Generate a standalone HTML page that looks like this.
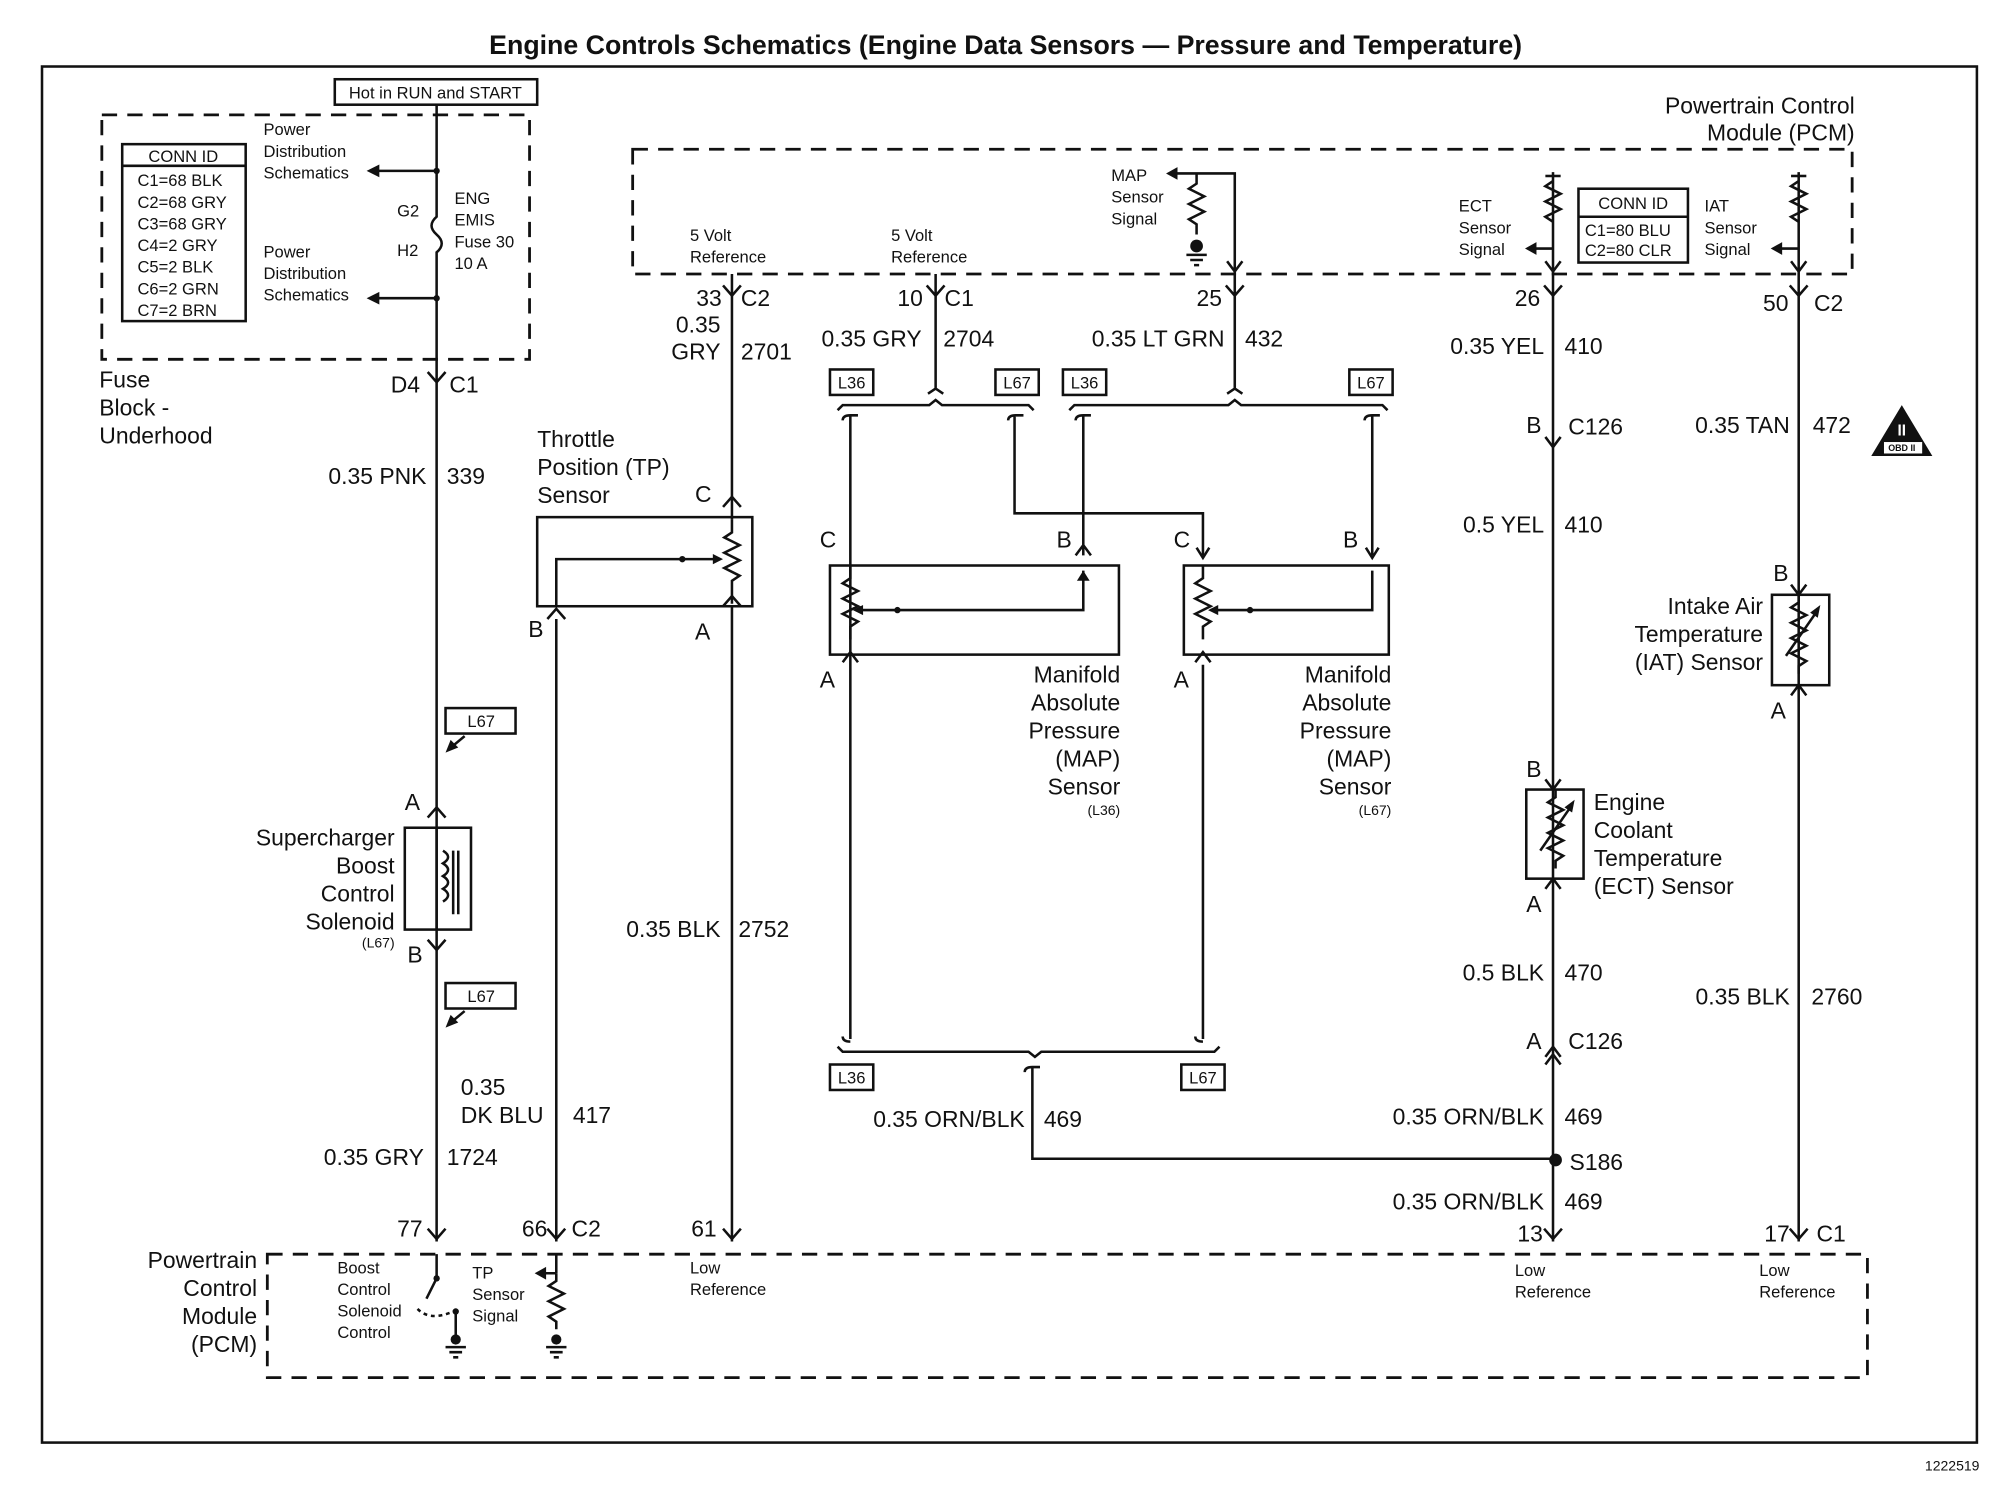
<!DOCTYPE html>
<html><head><style>
html,body{margin:0;padding:0;background:#fff}
svg{display:block}
text{font-family:"Liberation Sans",sans-serif;fill:#111}
.t{font-size:18px}
.s{font-size:13px}
.xs{font-size:11px}
.l{stroke:#111;stroke-width:2;fill:none}
.d{stroke:#111;stroke-width:2.2;fill:none;stroke-dasharray:12 8}
</style></head><body>
<svg width="1996" height="1504" viewBox="0 0 1568 1181" xmlns="http://www.w3.org/2000/svg">
<text x="790" y="42" text-anchor="middle" font-size="21" font-weight="bold">Engine Controls Schematics (Engine Data Sensors — Pressure and Temperature)</text>
<rect x="33" y="52" width="1520" height="1081" class="l" stroke-width="1.6"/>
<text x="1555" y="1155" text-anchor="end" class="xs">1222519</text>

<!-- Fuse block -->
<rect x="80" y="90" width="336" height="192" class="d"/>
<rect x="263" y="62" width="159" height="20" fill="#fff" stroke="#111" stroke-width="2"/>
<text x="342" y="77" text-anchor="middle" class="s">Hot in RUN and START</text>
<rect x="96" y="113" width="97" height="139" class="l"/>
<line x1="96" y1="130" x2="193" y2="130" class="l"/>
<g class="s"><text x="144" y="127" text-anchor="middle">CONN ID</text>
<text x="108" y="146">C1=68 BLK</text><text x="108" y="163">C2=68 GRY</text><text x="108" y="180">C3=68 GRY</text>
<text x="108" y="197">C4=2 GRY</text><text x="108" y="214">C5=2 BLK</text><text x="108" y="231">C6=2 GRN</text><text x="108" y="248">C7=2 BRN</text>
<text x="207" y="106">Power</text><text x="207" y="123">Distribution</text><text x="207" y="140">Schematics</text>
<text x="207" y="202">Power</text><text x="207" y="219">Distribution</text><text x="207" y="236">Schematics</text>
<text x="312" y="170">G2</text><text x="312" y="201">H2</text>
<text x="357" y="160">ENG</text><text x="357" y="177">EMIS</text><text x="357" y="194">Fuse 30</text><text x="357" y="211">10 A</text></g>
<path d="M343 82 V170 q-8 7 0 14 q8 7 0 14 V975" class="l"/>
<path d="M343 134 H292 M343 234 H292" class="l"/>
<path d="M288 134 l10 -5 v10z M288 234 l10 -5 v10z" fill="#111"/>
<circle cx="343" cy="134" r="2.5" fill="#111"/><circle cx="343" cy="234" r="2.5" fill="#111"/>
<path d="M336 292 l7 8 l7 -8" class="l"/>
<g class="t"><text x="78" y="304">Fuse</text><text x="78" y="326">Block -</text><text x="78" y="348">Underhood</text>
<text x="330" y="308" text-anchor="end">D4</text><text x="353" y="308">C1</text>
<text x="335" y="380" text-anchor="end">0.35 PNK</text><text x="351" y="380">339</text></g>

<!-- Solenoid -->
<rect x="350" y="556" width="55" height="20" fill="#fff" stroke="#111" stroke-width="2"/><text x="378" y="571" text-anchor="middle" class="s">L67</text>
<path d="M365 578 l-12 10" class="l"/><path d="M350 591 l4 -10 l6 6z" fill="#111"/>
<rect x="350" y="772" width="55" height="20" fill="#fff" stroke="#111" stroke-width="2"/><text x="378" y="787" text-anchor="middle" class="s">L67</text>
<path d="M365 794 l-12 10" class="l"/><path d="M350 807 l4 -10 l6 6z" fill="#111"/>
<rect x="318" y="650" width="52" height="80" fill="#fff" class="l"/>
<path d="M343 650 V730" class="l"/>
<path d="M348 668 q8 5 0 10 q8 5 0 10 q8 5 0 10 q8 5 0 10" class="l"/>
<path d="M356 668 V718 M360 668 V718" class="l"/>
<path d="M336 642 l7 -8 l7 8 M336 738 l7 8 l7 -8" class="l"/>
<g class="t"><text x="330" y="636" text-anchor="end">A</text><text x="332" y="756" text-anchor="end">B</text>
<text x="310" y="664" text-anchor="end">Supercharger</text><text x="310" y="686" text-anchor="end">Boost</text><text x="310" y="708" text-anchor="end">Control</text><text x="310" y="730" text-anchor="end">Solenoid</text>
<text x="362" y="860">0.35</text><text x="362" y="882">DK BLU</text><text x="450" y="882">417</text>
<text x="333" y="915" text-anchor="end">0.35 GRY</text><text x="351" y="915">1724</text></g>
<text x="310" y="744" text-anchor="end" class="xs">(L67)</text>

<!-- TP sensor -->
<g class="t"><text x="422" y="351">Throttle</text><text x="422" y="373">Position (TP)</text><text x="422" y="395">Sensor</text>
<text x="546" y="394">C</text><text x="415" y="500">B</text><text x="546" y="502">A</text></g>
<rect x="422" y="406" width="169" height="70" class="l"/>
<path d="M575 215 V408" class="l"/><path d="M568 398 l7 -8 l7 8" class="l"/>
<path d="M575 408 v10 l-6 4 l12 6 l-12 6 l12 6 l-12 6 l12 6 l-6 4 v18" class="l"/>
<path d="M568 476 l7 -8 l7 8" class="l"/><path d="M575 476 V975" class="l"/>
<path d="M565 439 H437 V476" class="l"/><circle cx="536" cy="439" r="2.5" fill="#111"/><path d="M568 439 l-8 -4 v8z" fill="#111"/>
<path d="M430 486 l7 -8 l7 8" class="l"/><path d="M437 486 V975" class="l"/>
<g class="t"><text x="567" y="240" text-anchor="end">33</text><text x="582" y="240">C2</text>
<text x="566" y="261" text-anchor="end">0.35</text><text x="566" y="282" text-anchor="end">GRY</text><text x="582" y="282">2701</text>
<text x="566" y="736" text-anchor="end">0.35 BLK</text><text x="580" y="736">2752</text></g>
<path d="M568 224 l7 8 l7 -8 M728 224 l7 8 l7 -8 M963 224 l7 8 l7 -8 M1213 224 l7 8 l7 -8 M1406 224 l7 8 l7 -8" class="l"/>

<!-- PCM top -->
<rect x="497" y="117" width="958" height="98" class="d"/>
<g class="t"><text x="1457" y="89" text-anchor="end">Powertrain Control</text><text x="1457" y="110" text-anchor="end">Module (PCM)</text></g>
<g class="s"><text x="542" y="189">5 Volt</text><text x="542" y="206">Reference</text>
<text x="700" y="189">5 Volt</text><text x="700" y="206">Reference</text>
<text x="873" y="142">MAP</text><text x="873" y="159">Sensor</text><text x="873" y="176">Signal</text>
<text x="1146" y="166">ECT</text><text x="1146" y="183">Sensor</text><text x="1146" y="200">Signal</text>
<text x="1339" y="166">IAT</text><text x="1339" y="183">Sensor</text><text x="1339" y="200">Signal</text></g>
<rect x="1240" y="148" width="86" height="58" class="l"/><line x1="1240" y1="170" x2="1326" y2="170" class="l"/>
<g class="s"><text x="1283" y="164" text-anchor="middle">CONN ID</text><text x="1245" y="185">C1=80 BLU</text><text x="1245" y="201">C2=80 CLR</text></g>
<!-- MAP resistor in PCM -->
<path d="M970 215 V136 H920" class="l"/><path d="M916 136 l9 -5 v10z" fill="#111"/>
<path d="M940 136 v8 l-6 4 l12 6 l-12 6 l12 6 l-12 6 l6 4 v8" class="l"/>
<circle cx="940" cy="193" r="5" fill="#111"/><path d="M932 200 h16 M935 204 h10 M938 208 h4" class="l"/>
<path d="M964 205 l6 8 l6 -8" class="l"/>
<!-- ECT res -->
<path d="M1220 135 V215" class="l"/><path d="M1214 138 h12" class="l"/>
<path d="M1220 142 l-6 4 l12 6 l-12 6 l12 6 l-12 6 l6 4" class="l"/>
<path d="M1220 195 H1202" class="l"/><path d="M1198 195 l9 -5 v10z" fill="#111"/>
<path d="M1214 205 l6 8 l6 -8" class="l"/>
<path d="M1413 135 V215" class="l"/><path d="M1407 138 h12" class="l"/>
<path d="M1413 142 l-6 4 l12 6 l-12 6 l12 6 l-12 6 l6 4" class="l"/>
<path d="M1413 195 H1395" class="l"/><path d="M1391 195 l9 -5 v10z" fill="#111"/>
<path d="M1407 205 l6 8 l6 -8" class="l"/>

<!-- MAP wiring -->
<path d="M735 215 V305 l-6 4 M735 305 l6 4 M970 215 V305 l-6 4 M970 305 l6 4" class="l"/>
<g class="t"><text x="725" y="240" text-anchor="end">10</text><text x="742" y="240">C1</text>
<text x="724" y="272" text-anchor="end">0.35 GRY</text><text x="741" y="272">2704</text>
<text x="960" y="240" text-anchor="end">25</text>
<text x="962" y="272" text-anchor="end">0.35 LT GRN</text><text x="978" y="272">432</text></g>
<g class="s" text-anchor="middle">
<rect x="652" y="290" width="34" height="20" class="l"/><text x="669" y="305">L36</text>
<rect x="782" y="290" width="34" height="20" class="l"/><text x="799" y="305">L67</text>
<rect x="835" y="290" width="34" height="20" class="l"/><text x="852" y="305">L36</text>
<rect x="1060" y="290" width="34" height="20" class="l"/><text x="1077" y="305">L67</text>
<rect x="652" y="836" width="34" height="20" class="l"/><text x="669" y="851">L36</text>
<rect x="928" y="836" width="34" height="20" class="l"/><text x="945" y="851">L67</text></g>
<path d="M658 322 l4 -4 H730 l5 -4 l5 4 H808 l4 4" class="l"/>
<path d="M840 322 l4 -4 H965 l5 -4 l5 4 H1086 l4 4" class="l"/>
<path d="M662 330 q0 -4 6 -4 h6 M668 326 V816 M662 814 q0 4 6 4" class="l"/>
<path d="M792 330 q0 -4 6 -4 h6 M797 326 V403 H945 V436" class="l"/>
<path d="M845 330 q0 -4 6 -4 h6 M851 326 V436" class="l"/>
<path d="M1072 330 q0 -4 6 -4 h6 M1078 326 V436" class="l"/>
<path d="M940 430 l5 8 l5 -8 M1073 430 l5 8 l5 -8" class="l"/>
<path d="M845 436 l6 -8 l6 8" class="l"/>
<path d="M658 822 l4 4 H808 l5 4 l5 -4 H954 l4 -4" class="l"/>
<path d="M945 522 V816 M939 814 q0 4 6 4" class="l"/>
<path d="M662 520 l6 -8 l6 8 M939 520 l6 -8 l6 8" class="l"/>
<path d="M805 842 q0 -4 6 -4 h6 M811 838 V910 H1222" class="l"/>
<!-- MAP boxes -->
<rect x="652" y="444" width="227" height="70" class="l"/>
<path d="M668 444 v10 l-6 4 l12 6 l-12 6 l12 6 l-12 6 l12 6 l-6 4 v10" class="l"/>
<path d="M672 479 H851 V448" class="l"/><circle cx="705" cy="479" r="2.5" fill="#111"/><path d="M670 479 l8 -4 v8z" fill="#111"/><path d="M846 456 l5 -8 l5 8z" fill="#111"/>
<rect x="930" y="444" width="161" height="70" class="l"/>
<path d="M945 444 v10 l-6 4 l12 6 l-12 6 l12 6 l-12 6 l12 6 l-6 4 v10" class="l"/>
<path d="M951 479 H1078 V448" class="l"/><circle cx="982" cy="479" r="2.5" fill="#111"/><path d="M949 479 l8 -4 v8z" fill="#111"/>
<g class="t"><text x="657" y="430" text-anchor="end">C</text><text x="842" y="430" text-anchor="end">B</text>
<text x="935" y="430" text-anchor="end">C</text><text x="1067" y="430" text-anchor="end">B</text>
<text x="656" y="540" text-anchor="end">A</text><text x="934" y="540" text-anchor="end">A</text>
<text x="880" y="536" text-anchor="end">Manifold</text><text x="880" y="558" text-anchor="end">Absolute</text><text x="880" y="580" text-anchor="end">Pressure</text><text x="880" y="602" text-anchor="end">(MAP)</text><text x="880" y="624" text-anchor="end">Sensor</text>
<text x="1093" y="536" text-anchor="end">Manifold</text><text x="1093" y="558" text-anchor="end">Absolute</text><text x="1093" y="580" text-anchor="end">Pressure</text><text x="1093" y="602" text-anchor="end">(MAP)</text><text x="1093" y="624" text-anchor="end">Sensor</text>
<text x="805" y="885" text-anchor="end">0.35 ORN/BLK</text><text x="820" y="885">469</text></g>
<text x="880" y="640" text-anchor="end" class="xs">(L36)</text><text x="1093" y="640" text-anchor="end" class="xs">(L67)</text>

<!-- ECT column -->
<path d="M1220 215 V975" class="l"/>
<path d="M1214 343 l6 8 l6 -8 M1214 830 l6 -8 l6 8 M1214 836 l6 -8 l6 8" class="l"/>
<rect x="1199" y="620" width="45" height="70" fill="#fff" class="l"/>
<path d="M1222 620 v6 l-6 4 l12 6 l-12 6 l12 6 l-12 6 l12 6 l-12 6 l12 6 l-6 4 v6" class="l"/>
<path d="M1210 668 l25 -36" class="l"/><path d="M1237 628 l-2 10 l-6 -4z" fill="#111"/>
<path d="M1214 612 l6 8 l6 -8 M1214 698 l6 -8 l6 8" class="l"/>
<circle cx="1222" cy="911" r="5" fill="#111"/>
<g class="t"><text x="1210" y="240" text-anchor="end">26</text>
<text x="1213" y="278" text-anchor="end">0.35 YEL</text><text x="1229" y="278">410</text>
<text x="1211" y="340" text-anchor="end">B</text><text x="1232" y="341">C126</text>
<text x="1213" y="418" text-anchor="end">0.5 YEL</text><text x="1229" y="418">410</text>
<text x="1211" y="610" text-anchor="end">B</text><text x="1211" y="716" text-anchor="end">A</text>
<text x="1252" y="636">Engine</text><text x="1252" y="658">Coolant</text><text x="1252" y="680">Temperature</text><text x="1252" y="702">(ECT) Sensor</text>
<text x="1213" y="770" text-anchor="end">0.5 BLK</text><text x="1229" y="770">470</text>
<text x="1211" y="824" text-anchor="end">A</text><text x="1232" y="824">C126</text>
<text x="1213" y="883" text-anchor="end">0.35 ORN/BLK</text><text x="1229" y="883">469</text>
<text x="1233" y="919">S186</text>
<text x="1213" y="950" text-anchor="end">0.35 ORN/BLK</text><text x="1229" y="950">469</text>
<text x="1212" y="975" text-anchor="end">13</text></g>

<!-- IAT column -->
<path d="M1413 215 V975" class="l"/>
<rect x="1392" y="467" width="45" height="71" fill="#fff" class="l"/>
<path d="M1413 467 v6 l-6 4 l12 6 l-12 6 l12 6 l-12 6 l12 6 l-12 6 l12 6 l-6 4 v6" class="l"/>
<path d="M1403 515 l25 -36" class="l"/><path d="M1430 475 l-2 10 l-6 -4z" fill="#111"/>
<path d="M1407 459 l6 8 l6 -8 M1407 546 l6 -8 l6 8" class="l"/>
<g class="t"><text x="1405" y="244" text-anchor="end">50</text><text x="1425" y="244">C2</text>
<text x="1406" y="340" text-anchor="end">0.35 TAN</text><text x="1424" y="340">472</text>
<text x="1405" y="456" text-anchor="end">B</text><text x="1403" y="564" text-anchor="end">A</text>
<text x="1385" y="482" text-anchor="end">Intake Air</text><text x="1385" y="504" text-anchor="end">Temperature</text><text x="1385" y="526" text-anchor="end">(IAT) Sensor</text>
<text x="1406" y="789" text-anchor="end">0.35 BLK</text><text x="1423" y="789">2760</text>
<text x="1406" y="975" text-anchor="end">17</text><text x="1427" y="975">C1</text></g>
<path d="M1494 318 l24 40 h-48z" fill="#111"/><rect x="1480" y="347" width="30" height="9" fill="#fff"/>
<text x="1494" y="354" text-anchor="middle" font-size="7" font-weight="bold">OBD II</text>
<text x="1494" y="342" text-anchor="middle" font-size="12" font-weight="bold" style="fill:#fff">II</text>

<!-- Bottom PCM -->
<rect x="210" y="985" width="1257" height="97" class="d"/>
<path d="M336 965 l7 8 l7 -8 M430 965 l7 8 l7 -8 M568 965 l7 8 l7 -8 M1213 965 l7 8 l7 -8 M1406 965 l7 8 l7 -8" class="l"/>
<g class="t"><text x="332" y="971" text-anchor="end">77</text><text x="430" y="971" text-anchor="end">66</text><text x="449" y="971">C2</text><text x="563" y="971" text-anchor="end">61</text>
<text x="202" y="996" text-anchor="end">Powertrain</text><text x="202" y="1018" text-anchor="end">Control</text><text x="202" y="1040" text-anchor="end">Module</text><text x="202" y="1062" text-anchor="end">(PCM)</text></g>
<g class="s"><text x="265" y="1000">Boost</text><text x="265" y="1017">Control</text><text x="265" y="1034">Solenoid</text><text x="265" y="1051">Control</text>
<text x="371" y="1004">TP</text><text x="371" y="1021">Sensor</text><text x="371" y="1038">Signal</text>
<text x="542" y="1000">Low</text><text x="542" y="1017">Reference</text>
<text x="1190" y="1002">Low</text><text x="1190" y="1019">Reference</text>
<text x="1382" y="1002">Low</text><text x="1382" y="1019">Reference</text></g>
<path d="M343 985 V1004 L335 1020" class="l"/><circle cx="343" cy="1004" r="2.5" fill="#111"/>
<path d="M328 1028 q10 10 28 2" class="l" stroke-dasharray="3 3"/>
<path d="M358 1030 V1050" class="l"/><circle cx="358" cy="1030" r="2.5" fill="#111"/><circle cx="358" cy="1052" r="4" fill="#111"/>
<path d="M350 1058 h16 M353 1062 h10 M356 1066 h4" class="l"/>
<path d="M437 985 V1000 M437 1000 H424" class="l"/><path d="M420 1000 l9 -5 v10z" fill="#111"/>
<path d="M437 1000 v6 l-6 4 l12 6 l-12 6 l12 6 l-12 6 l6 4 v6" class="l"/><circle cx="437" cy="1052" r="4" fill="#111"/>
<path d="M429 1058 h16 M432 1062 h10 M435 1066 h4" class="l"/>
</svg>
</body></html>
